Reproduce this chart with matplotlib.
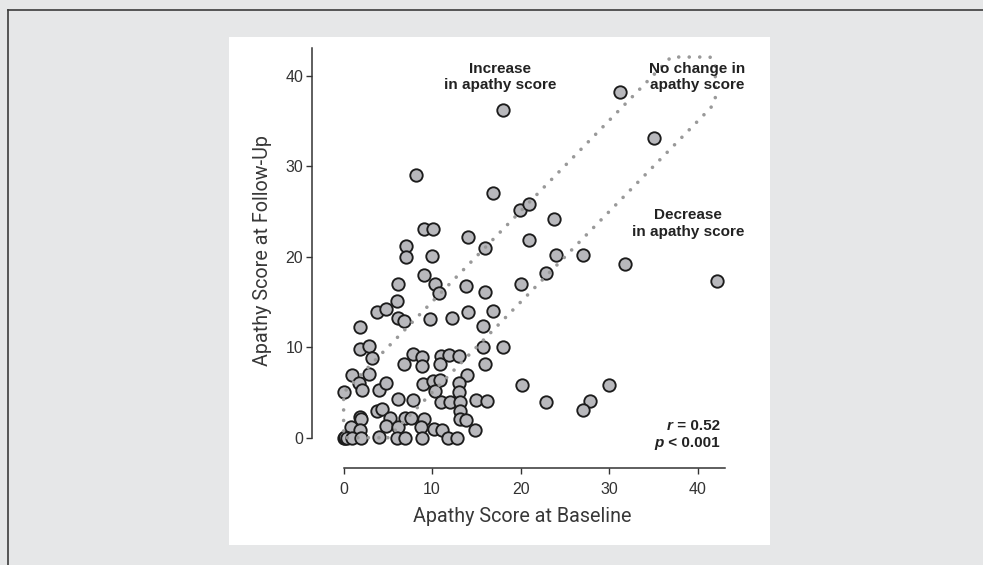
import matplotlib
matplotlib.use('Agg')
import matplotlib.pyplot as plt
from matplotlib.patches import Rectangle
from matplotlib.lines import Line2D

# ---------------- data ----------------
baseline = [18.0, 31.2, 35.1, 8.2, 16.9, 19.9, 21.0, 23.8, 9.1, 10.1,
            14.0, 21.0, 16.0, 7.05, 7.05, 10.0, 24.0, 27.0, 31.8, 42.2,
            22.9, 9.1, 20.1, 6.2, 10.3, 10.8, 13.8, 16.0, 6.0, 3.8,
            4.8, 6.2, 6.8, 9.8, 12.3, 14.0, 16.9, 1.9, 15.8, 1.8,
            2.9, 3.2, 7.8, 8.9, 8.9, 6.8, 11.0, 10.9, 11.9, 13.0,
            15.8, 18.0, 16.0, 13.9, 1.0, 2.9, 1.7, 2.1, 0.0, 4.0,
            4.8, 9.0, 10.1, 10.9, 10.3, 13.0, 13.0, 20.2, 30.0, 11.0,
            12.0, 13.1, 13.1, 13.1, 13.8, 15.0, 16.2, 22.9, 27.8, 27.1,
            6.2, 7.8, 3.8, 4.3, 1.8, 2.0, 5.2, 6.9, 7.6, 9.1,
            0.8, 1.8, 4.8, 6.2, 8.7, 10.2, 11.1, 14.9, 0.0, 0.1,
            0.2, 0.4, 0.9, 2.0, 4.0, 6.0, 6.9, 8.8, 11.8, 12.8]
followup = [36.2, 38.2, 33.1, 29.1, 27.1, 25.2, 25.9, 24.2, 23.1, 23.1,
            22.2, 21.9, 21.0, 21.2, 20.0, 20.1, 20.2, 20.2, 19.2, 17.3,
            18.2, 18.0, 17.0, 17.0, 17.0, 16.0, 16.8, 16.1, 15.1, 13.9,
            14.2, 13.2, 12.9, 13.1, 13.2, 13.9, 14.0, 12.2, 12.3, 9.8,
            10.1, 8.8, 9.3, 8.9, 7.9, 8.1, 9.0, 8.1, 9.1, 9.0,
            10.0, 10.0, 8.2, 6.9, 6.9, 7.0, 6.0, 5.3, 5.0, 5.3,
            6.1, 5.9, 6.3, 6.4, 5.2, 6.1, 5.1, 5.8, 5.8, 3.9,
            4.0, 3.9, 3.0, 2.1, 2.0, 4.2, 4.1, 4.0, 4.1, 3.1,
            4.3, 4.2, 2.9, 3.2, 2.3, 2.1, 2.2, 2.2, 2.2, 2.1,
            1.2, 0.9, 1.3, 1.2, 1.2, 1.0, 0.8, 0.8, 0.0, 0.0,
            0.1, 0.0, 0.0, 0.0, 0.1, 0.0, 0.0, 0.0, 0.0, 0.0]

# "no change" band outline (dotted)
band_x = [5, 41.5, 42.0, 42.0, 41.4, 37.0, 0, 0, 5]
band_y = [0, 36.5, 37.5, 41.3, 42.1, 42.1, 5, 0, 0]

x_ticks = [0, 10, 20, 30, 40]
y_ticks = [0, 10, 20, 30, 40]

x_label = 'Apathy Score at Baseline'
y_label = 'Apathy Score at Follow-Up'
txt_increase = 'Increase\nin apathy score'
txt_nochange = 'No change in\napathy score'
txt_decrease = 'Decrease\nin apathy score'
r_value = '0.52'
p_value = '0.001'

# ---------------- figure ----------------
W, H = 983, 565
fig = plt.figure(figsize=(W / 100, H / 100), dpi=100, facecolor='#e6e7e8')

# white panel
panel = Rectangle((229 / W, (H - 545) / H), 541 / W, 508 / H,
                  transform=fig.transFigure, facecolor='white',
                  edgecolor='none', zorder=-10)
fig.add_artist(panel)
# outer border lines (top and left)
fig.add_artist(Line2D([8 / W, 1.0], [(H - 10) / H, (H - 10) / H],
                      transform=fig.transFigure, color='#3c3c3c', lw=1.2, zorder=-5))
fig.add_artist(Line2D([8 / W, 8 / W], [0, (H - 10) / H],
                      transform=fig.transFigure, color='#3c3c3c', lw=1.2, zorder=-5))

ax_l, ax_r, ax_b, ax_t = 312.3, 733.0, 468.0, 48.0
ax = fig.add_axes([ax_l / W, (H - ax_b) / H, (ax_r - ax_l) / W, (ax_b - ax_t) / H])
ax.set_zorder(5)
ax.set_facecolor('none')
ax.set_xlim(-3.54, 44.0)
ax.set_ylim(-3.35, 43.1)

ax.scatter(baseline, followup, s=80, facecolor='#b8b8bc', edgecolor='#1c1c1c',
           linewidth=1.35, zorder=3, clip_on=False)

ax.plot(band_x, band_y, color='#999999', lw=2.6, linestyle=(0, (0.01, 2.9)),
        dash_capstyle='round', solid_capstyle='round', zorder=4, clip_on=False)

for s in ['top', 'right']:
    ax.spines[s].set_visible(False)
for s in ['left', 'bottom']:
    ax.spines[s].set_color('#333333')
    ax.spines[s].set_linewidth(1.1)
ax.spines['left'].set_bounds(0, 43.1)
ax.spines['bottom'].set_bounds(0, 43.1)

ax.set_xticks(x_ticks)
ax.set_yticks(y_ticks)
ax.tick_params(axis='both', direction='out', length=4, width=1.0, color='#333333',
               labelcolor='#333333', labelsize=11.5)
ax.tick_params(axis='x', pad=6)
ax.tick_params(axis='y', pad=2.5)
for lab in ax.get_xticklabels() + ax.get_yticklabels():
    lab.set_fontfamily('Liberation Sans')

ax.set_xlabel(x_label, fontfamily='Roboto', fontsize=14.2, color='#383838')
ax.set_ylabel(y_label, fontfamily='Roboto', fontsize=14.2, color='#383838')
ax.xaxis.label.set_va('center')
ax.yaxis.label.set_va('center')
ax.xaxis.set_label_coords((522 - ax_l) / (ax_r - ax_l), (ax_b - 517) / (ax_b - ax_t))
ax.yaxis.set_label_coords((262 - ax_l) / (ax_r - ax_l), (ax_b - 250) / (ax_b - ax_t))

tkw = dict(fontfamily='Liberation Sans', fontweight='bold', fontsize=11,
           color='#222222', ha='center', va='center', linespacing=1.25, zorder=5)
ax.text(17.7, 39.9, txt_increase, **tkw)
ax.text(40.0, 39.9, txt_nochange, **tkw)
ax.text(38.9, 23.7, txt_decrease, **tkw)

# r / p statistics, right aligned with italic letters
skw = dict(fontfamily='Liberation Sans', fontweight='bold', fontsize=11,
           color='#222222', va='center', zorder=5)
t1 = ax.text(42.5, 1.35, ' = ' + r_value, ha='right', **skw)
t2 = ax.text(42.5, -0.6, ' < ' + p_value, ha='right', **skw)
fig.canvas.draw()
inv = ax.transData.inverted()
for t, letter in [(t1, 'r'), (t2, 'p')]:
    bb = t.get_window_extent()
    x0 = inv.transform((bb.x0, bb.y0))[0]
    ax.text(x0, t.get_position()[1], letter, ha='right', style='italic', **skw)

fig.savefig('out.png', dpi=100, facecolor=fig.get_facecolor())
